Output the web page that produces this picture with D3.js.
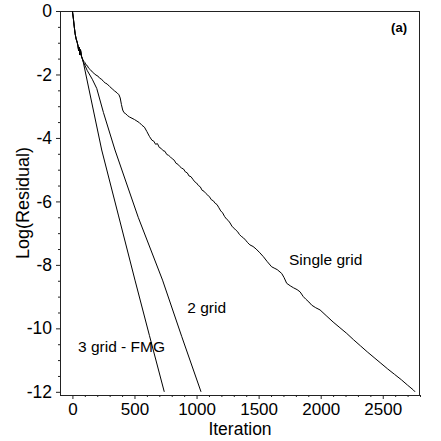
<!DOCTYPE html>
<html>
<head>
<meta charset="utf-8">
<script src="https://cdn.jsdelivr.net/npm/d3@7"></script>
<style>
  html, body { margin: 0; padding: 0; background: #fff; }
  svg { display: block; }
  text { font-family: Arial, "Liberation Sans", Helvetica, sans-serif; fill: #000; }
</style>
</head>
<body>
<svg id="chart" width="441" height="441"></svg>
<script>
// Convergence history: [iteration, log10(residual)]
const singleGrid = [
  [0, 0], [8, -0.25], [15, -0.5], [22, -0.72], [30, -0.88], [38, -0.98], [45, -1.1],
  [50, -1.25], [55, -1.15], [60, -1.38], [65, -1.22], [72, -1.42], [80, -1.5],
  [90, -1.58], [100, -1.62], [110, -1.7], [120, -1.72], [130, -1.8], [145, -1.85],
  [160, -1.92], [175, -1.97], [190, -2.02], [205, -2.05], [220, -2.12], [235, -2.15],
  [250, -2.22], [265, -2.27], [280, -2.3], [300, -2.38], [320, -2.45], [340, -2.52],
  [360, -2.58], [375, -2.64], [385, -2.74], [395, -2.95], [405, -3.12], [415, -3.2],
  [430, -3.24], [445, -3.3], [460, -3.34], [480, -3.38], [500, -3.42], [520, -3.47],
  [540, -3.52], [560, -3.6], [580, -3.66], [600, -3.8], [620, -3.95], [640, -4.07],
  [655, -4.1], [670, -4.2], [685, -4.18], [700, -4.3], [715, -4.33], [730, -4.4],
  [745, -4.42], [760, -4.52], [775, -4.55], [790, -4.6], [805, -4.66], [820, -4.7],
  [835, -4.8], [850, -4.83], [865, -4.9], [880, -4.95], [895, -4.98], [910, -5.07],
  [925, -5.1], [940, -5.2], [955, -5.22], [970, -5.3], [985, -5.38], [1000, -5.42],
  [1015, -5.5], [1030, -5.54], [1045, -5.65], [1060, -5.68], [1075, -5.75], [1090, -5.8],
  [1105, -5.86], [1120, -5.95], [1135, -5.98], [1150, -6.06], [1165, -6.1], [1180, -6.2],
  [1195, -6.3], [1210, -6.36], [1225, -6.47], [1240, -6.55], [1255, -6.6], [1270, -6.68],
  [1285, -6.78], [1300, -6.84], [1315, -6.9], [1330, -6.95], [1345, -7.04], [1360, -7.1],
  [1378, -7.15], [1395, -7.22], [1412, -7.3], [1430, -7.37], [1455, -7.42], [1480, -7.5],
  [1510, -7.62], [1538, -7.74], [1570, -7.9], [1605, -8.06], [1625, -8.1], [1650, -8.15],
  [1686, -8.27], [1705, -8.4], [1726, -8.58], [1755, -8.66], [1780, -8.72], [1810, -8.78],
  [1834, -8.85], [1860, -9.0], [1880, -9.08], [1905, -9.17], [1928, -9.27], [1960, -9.35],
  [1995, -9.42], [2050, -9.62], [2100, -9.8], [2155, -9.98], [2210, -10.16],
  [2265, -10.36], [2320, -10.55], [2375, -10.74], [2430, -10.92], [2485, -11.1],
  [2540, -11.28], [2595, -11.45], [2650, -11.62], [2700, -11.79], [2746, -11.94],
  [2760, -12.0]
];

const twoGrid = [
  [0, 0], [8, -0.25], [15, -0.5], [22, -0.72], [30, -0.88], [38, -0.98], [45, -1.1],
  [50, -1.25], [55, -1.15], [60, -1.38], [65, -1.22], [72, -1.42], [88, -1.6],
  [120, -1.88], [160, -2.15], [196, -2.44], [250, -3.2], [343, -4.38], [530, -6.5],
  [726, -8.48], [880, -10.25], [1036, -12.0]
];

const threeGrid = [
  [0, 0], [8, -0.25], [15, -0.5], [22, -0.72], [30, -0.88], [38, -0.98], [45, -1.1],
  [50, -1.25], [55, -1.15], [60, -1.38], [65, -1.22], [75, -1.44], [88, -1.62],
  [236, -4.38], [370, -6.43], [504, -8.48], [620, -10.22], [740, -12.0]
];

const xTicks = [0, 500, 1000, 1500, 2000, 2500];
const yTicks = [0, -2, -4, -6, -8, -10, -12];

const curveLabels = [
  { text: "Single grid", iter: 1745, log: -8.0 },
  { text: "2 grid", iter: 925, log: -9.51 },
  { text: "3 grid - FMG", iter: 45, log: -10.73 }
];

const svg = d3.select("#chart");
const mLeft = 60, mRight = 420, mTop = 11, mBottom = 395;

const x = d3.scaleLinear().domain([-100, 2800]).range([mLeft, mRight]);
const y = d3.scaleLinear().domain([-12.1, 0]).range([mBottom, mTop]);

const axisColor = "#222";

// minor ticks every 100 iterations and every 0.5 decades
const xMinor = d3.range(0, 2801, 100).filter(v => v % 500 !== 0);
const yMinor = d3.range(0, -12.01, -0.5).filter(v => Math.abs(v % 2) > 1e-9);

const xAxis = d3.axisBottom(x).tickValues(xTicks).tickSize(4).tickPadding(4).tickFormat(d3.format("d"));
const yAxis = d3.axisLeft(y).tickValues(yTicks).tickSize(4).tickPadding(4)
  .tickFormat(d => d === 0 ? "0" : "-" + Math.abs(d));

const gx = svg.append("g").attr("transform", `translate(0,${mBottom})`).call(xAxis);
const gy = svg.append("g").attr("transform", `translate(${mLeft},0)`).call(yAxis);

svg.append("g").attr("transform", `translate(0,${mBottom})`)
  .call(d3.axisBottom(x).tickValues(xMinor).tickSize(2).tickFormat(""))
  .call(g => g.select(".domain").remove());
svg.append("g").attr("transform", `translate(${mLeft},0)`)
  .call(d3.axisLeft(y).tickValues(yMinor).tickSize(2).tickFormat(""))
  .call(g => g.select(".domain").remove());

gx.select(".domain").attr("d", `M${mLeft},0.5H${mRight}`).attr("stroke", axisColor);
gy.select(".domain").attr("d", `M0.5,${mTop}V${mBottom}`).attr("stroke", axisColor);
svg.selectAll(".tick line").attr("stroke", axisColor);
svg.selectAll(".tick text").style("font-size", "17.5px")
  .style("font-family", "Arial, 'Liberation Sans', sans-serif").attr("fill", "#000");
gx.selectAll(".tick text").style("font-size", "17px");

// frame top and right
svg.append("line").attr("x1", mLeft).attr("x2", mRight).attr("y1", mTop + 0.5).attr("y2", mTop + 0.5)
  .attr("stroke", axisColor);
svg.append("line").attr("x1", mRight - 0.5).attr("x2", mRight - 0.5).attr("y1", mTop).attr("y2", mBottom)
  .attr("stroke", axisColor);

const line = d3.line().x(d => x(d[0])).y(d => y(d[1]));

[singleGrid, twoGrid, threeGrid].forEach(s => {
  svg.append("path").datum(s).attr("d", line)
    .attr("fill", "none").attr("stroke", "#000").attr("stroke-width", 1)
    .attr("stroke-linejoin", "round");
});

svg.selectAll(".clabel").data(curveLabels).enter().append("text")
  .attr("class", "clabel")
  .attr("x", d => x(d.iter)).attr("y", d => y(d.log))
  .style("font-size", "15.5px")
  .text(d => d.text);

svg.append("text").attr("x", 407).attr("y", 32).attr("text-anchor", "end")
  .style("font-size", "13px").style("font-weight", "bold").text("(a)");

svg.append("text").attr("x", (mLeft + mRight) / 2).attr("y", 435).attr("text-anchor", "middle")
  .style("font-size", "17.5px").text("Iteration");

svg.append("text").attr("transform", `translate(29,${(mTop + mBottom) / 2}) rotate(-90)`)
  .attr("text-anchor", "middle").style("font-size", "18px").text("Log(Residual)");
</script>
</body>
</html>
